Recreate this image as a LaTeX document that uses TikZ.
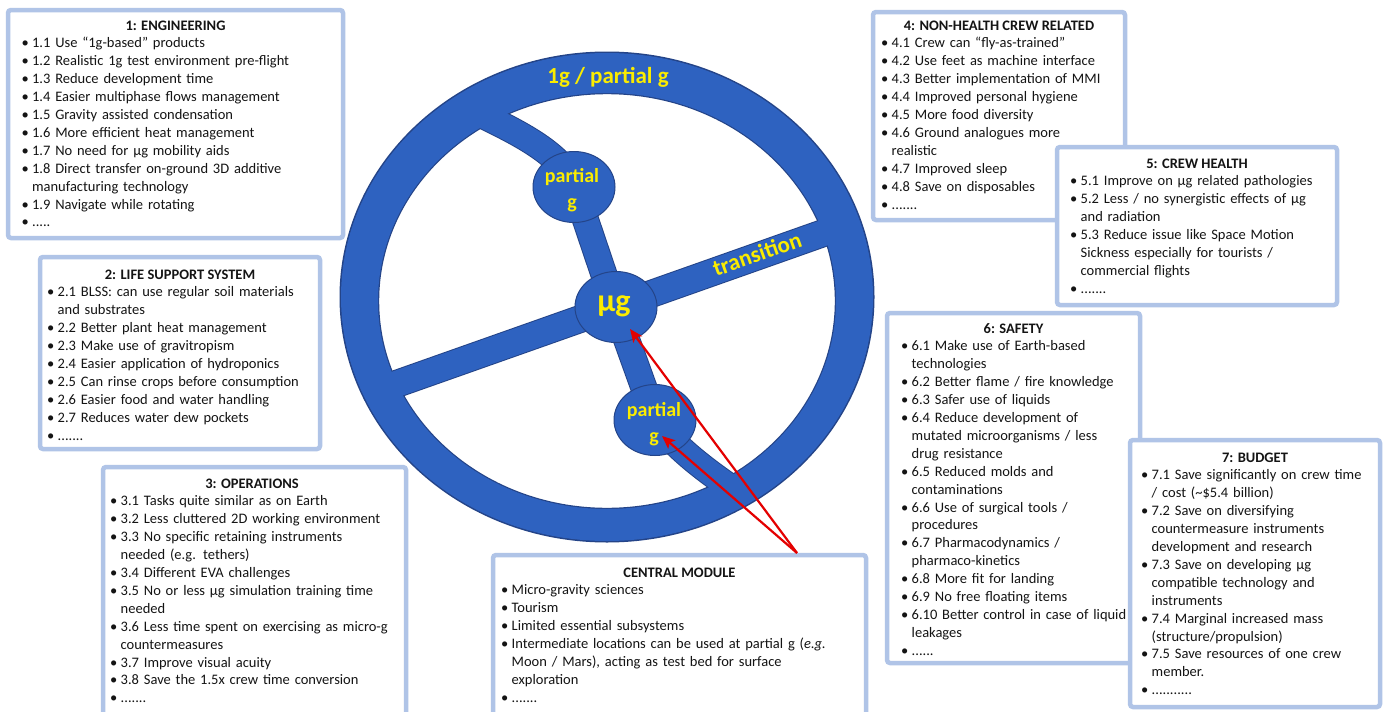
\documentclass[tikz,border=0pt]{standalone}
\usepackage{fontspec}
\setmainfont{Carlito}
\usetikzlibrary{arrows.meta,shapes.geometric}
\definecolor{wblue}{RGB}{46,98,192}
\definecolor{wdark}{RGB}{36,68,136}
\definecolor{wyel}{RGB}{250,236,0}
\definecolor{boxc}{RGB}{176,196,231}
\definecolor{txtc}{RGB}{20,20,20}
\definecolor{arrred}{RGB}{228,0,0}
\newcommand{\bxitem}[1]{{\hangindent=10.5pt\hangafter=1\noindent\makebox[10.5pt][l]{•}#1\par}}
\begin{document}
\begin{tikzpicture}[x=1pt,y=-1pt,
  frame/.style={draw=boxc, line width=4.5pt, fill=white, rounded corners=3pt, anchor=north west, inner sep=0pt, outer sep=0pt},
  bxtitle/.style={anchor=base, inner sep=0pt, text=txtc, font=\fontsize{14.5}{17.9}\selectfont\bfseries},
  bxtext/.style={anchor=base west, inner sep=0pt, align=left, text=txtc, text width=#1, font=\fontsize{14.5}{17.9}\selectfont},
  spkd/.style={draw=wdark, line width=27pt},
  spkb/.style={draw=wblue, line width=25pt},
  trd/.style={draw=wdark, line width=28pt},
  trb/.style={draw=wblue, line width=26pt},
  hub/.style={ellipse, fill=wblue, draw=wdark, line width=1pt, minimum width=82pt, minimum height=71pt, inner sep=0pt},
  hubtext/.style={inner sep=0pt, align=center, text=wyel, font=\fontsize{20}{26}\selectfont\bfseries},
  wlabel/.style={inner sep=0pt, text=wyel, font=\fontsize{23}{23}\selectfont\bfseries},
  redarr/.style={draw=arrred, line width=2.2pt, -{Stealth[length=13pt,width=11pt,inset=3pt]}}
]
\useasboundingbox (0,0) rectangle (1384,712);
\clip (0,0) rectangle (1384,712);
\fill[white] (0,0) rectangle (1384,712);

% ---- wheel ----
\fill[wdark, even odd rule] (607,297) ellipse [x radius=267.5pt, y radius=245.5pt] (607,301) ellipse [x radius=227.8pt, y radius=206.8pt];
\draw[spkd] (480,114) .. controls (512,130) and (563,153) .. (574,186) .. controls (587,224) and (602,269) .. (615,307) .. controls (628,344) and (642,382) .. (655,419) .. controls (674,448) and (711,474) .. (740,494);
\draw[trd] (385,388) -- (832,230);
\fill[wblue, even odd rule] (607,297) ellipse [x radius=266pt, y radius=244pt] (607,301) ellipse [x radius=229pt, y radius=208pt];
\draw[spkb] (480,114) .. controls (512,130) and (563,153) .. (574,186) .. controls (587,224) and (602,269) .. (615,307) .. controls (628,344) and (642,382) .. (655,419) .. controls (674,448) and (711,474) .. (740,494);
\draw[trb] (385,388) -- (832,230);

\node[hub] (pgu) at (574,187) {};
\node[hubtext] (pgutxt) at (572,190) {partial\\g};
\node[hub] (mug) at (616,307) {};
\node[hubtext, font=\fontsize{32}{32}\selectfont\bfseries] (mugtxt) at (614,306) {μg};
\node[hub] (pgl) at (655,420) {};
\node[hubtext] (pgltxt) at (654,424) {partial\\g};
\node[wlabel] (lbl1g) at (608,77) {1g / partial g};
\node[wlabel, rotate=19.5] (lbltr) at (757,254) {transition};

% ---- boxes ----
\node[frame, minimum width=335pt, minimum height=228pt] (f1) at (8,10) {};
\node[bxtitle] (tt1) at (175.5,30) {1: ENGINEERING};
\node[bxtext=320pt] (t1) at (21.4,47.9) {%
\bxitem{1.1 Use “1g-based” products}
\bxitem{1.2 Realistic 1g test environment  pre-flight}
\bxitem{1.3 Reduce development  time}
\bxitem{1.4 Easier multiphase flows management}
\bxitem{1.5 Gravity assisted condensation}
\bxitem{1.6 More efficient heat management}
\bxitem{1.7 No need for μg mobility aids}
\bxitem{1.8 Direct transfer on-ground 3D additive\newline manufacturing technology}
\bxitem{1.9 Navigate while rotating}
\bxitem{.....}};

\node[frame, minimum width=280pt, minimum height=192pt] (f2) at (40,257) {};
\node[bxtitle] (tt2) at (180,279) {2: LIFE SUPPORT  SYSTEM};
\node[bxtext=290pt] (t2) at (47,296.9) {%
\bxitem{2.1 BLSS:  can use regular soil materials\newline and substrates}
\bxitem{2.2 Better  plant heat management}
\bxitem{2.3 Make use of gravitropism}
\bxitem{2.4 Easier application of hydroponics}
\bxitem{2.5 Can rinse crops before consumption}
\bxitem{2.6 Easier food and water handling}
\bxitem{2.7 Reduces water dew pockets}
\bxitem{.......}};

\node[frame, minimum width=303pt, minimum height=260pt] (f3) at (103,467) {};
\node[bxtitle] (tt3) at (252,488) {3: OPERATIONS};
\node[bxtext=310pt] (t3) at (110,505.9) {%
\bxitem{3.1 Tasks quite similar as on Earth}
\bxitem{3.2 Less cluttered 2D working environment}
\bxitem{3.3 No specific retaining instruments\newline needed  (e.g.  tethers)}
\bxitem{3.4 Different EVA challenges}
\bxitem{3.5 No or less μg simulation training time\newline needed}
\bxitem{3.6 Less time spent on exercising as micro-g\newline countermeasures}
\bxitem{3.7 Improve visual acuity}
\bxitem{3.8 Save the 1.5x crew time conversion}
\bxitem{.......}};

\node[frame, minimum width=252pt, minimum height=208pt] (f4) at (873,12) {};
\node[bxtitle] (tt4) at (999,30) {4: NON-HEALTH  CREW RELATED};
\node[bxtext=260pt] (t4) at (881,47.9) {%
\bxitem{4.1 Crew can “fly-as-trained”}
\bxitem{4.2 Use feet  as machine interface}
\bxitem{4.3 Better  implementation of MMI}
\bxitem{4.4 Improved personal hygiene}
\bxitem{4.5 More food diversity}
\bxitem{4.6 Ground analogues more\newline realistic}
\bxitem{4.7 Improved sleep}
\bxitem{4.8 Save on disposables}
\bxitem{.......}};

\node[frame, minimum width=280pt, minimum height=158pt] (f5) at (1057,147) {};
\node[bxtitle] (tt5) at (1197,168) {5: CREW  HEALTH};
\node[bxtext=280pt] (t5) at (1070,185.9) {%
\bxitem{5.1 Improve on μg related pathologies}
\bxitem{5.2 Less / no synergistic effects of μg\newline and radiation}
\bxitem{5.3 Reduce  issue like Space Motion\newline Sickness especially for tourists /\newline commercial flights}
\bxitem{.......}};

\node[frame, minimum width=253pt, minimum height=350pt] (f6) at (887,313) {};
\node[bxtitle] (tt6) at (1013.5,333) {6: SAFETY};
\node[bxtext=260pt] (t6) at (901,350.9) {%
\bxitem{6.1 Make use of Earth-based\newline technologies}
\bxitem{6.2 Better  flame / fire knowledge}
\bxitem{6.3 Safer use of liquids}
\bxitem{6.4 Reduce development  of\newline mutated  microorganisms / less\newline drug resistance}
\bxitem{6.5 Reduced  molds and\newline contaminations}
\bxitem{6.6 Use of surgical tools /\newline procedures}
\bxitem{6.7 Pharmacodynamics /\newline pharmaco-kinetics}
\bxitem{6.8 More fit for landing}
\bxitem{6.9 No free floating items}
\bxitem{6.10 Better  control in case of liquid\newline leakages}
\bxitem{......}};

\node[frame, minimum width=250pt, minimum height=267pt] (f7) at (1130,440) {};
\node[bxtitle] (tt7) at (1255,462) {7: BUDGET};
\node[bxtext=260pt] (t7) at (1141,479.9) {%
\bxitem{7.1 Save significantly on crew time\newline / cost (\textasciitilde\$5.4 billion)}
\bxitem{7.2 Save on diversifying\newline countermeasure  instruments\newline development  and research}
\bxitem{7.3 Save on developing μg\newline compatible technology and\newline instruments}
\bxitem{7.4 Marginal increased mass\newline (structure/propulsion)}
\bxitem{7.5 Save resources of one crew\newline member.}
\bxitem{...........}};

\node[frame, minimum width=373pt, minimum height=170pt] (fc) at (493,555) {};
\node[bxtitle] (ttc) at (679.5,577) {CENTRAL MODULE};
\node[bxtext=380pt] (tc) at (501,594.9) {%
\bxitem{Micro-gravity sciences}
\bxitem{Tourism}
\bxitem{Limited essential subsystems}
\bxitem{Intermediate  locations can be used at partial g (\textit{e.g.}\newline Moon / Mars), acting as test bed  for surface\newline exploration}
\bxitem{.......}};

% ---- arrows ----
\coordinate (armstart) at (797,553);
\coordinate (tipmu) at (630,329);
\coordinate (tippg) at (662,436);
\draw[redarr] (armstart) -- (tipmu);
\draw[redarr] (armstart) -- (tippg);
\end{tikzpicture}
\end{document}
